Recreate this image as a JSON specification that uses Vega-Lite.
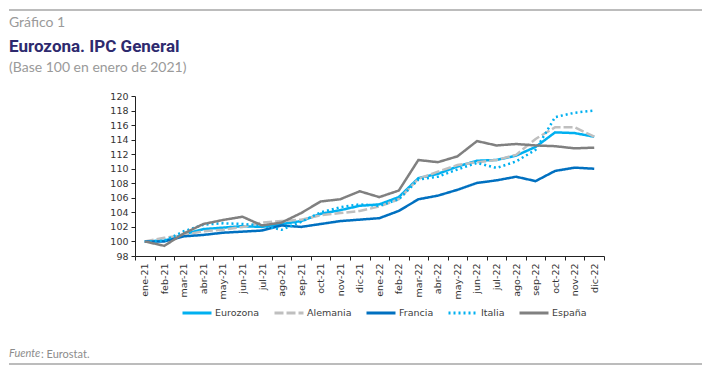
{
  "$schema": "https://vega.github.io/schema/vega-lite/v6.json",
  "padding": {"left": 8, "top": 9, "right": 0, "bottom": 0},
  "background": "white",
  "config": {
    "view": {"stroke": null},
    "axis": {"labelFont": "DejaVu Sans", "labelFontSize": 9.5, "labelColor": "#333333", "domainColor": "#222222", "tickColor": "#222222", "grid": false, "title": null}
  },
  "resolve": {"scale": {"x": "independent", "y": "independent"}},
  "spacing": 48,
  "vconcat": [
    {
      "spacing": 8,
      "resolve": {"scale": {"x": "independent", "y": "independent"}},
      "vconcat": [
        {
          "width": 469,
          "height": 1,
          "data": {"values": [{"a": 0, "b": 1, "r": 1}]},
          "mark": {"type": "rule", "color": "#a6a6a6", "strokeWidth": 1.5},
          "encoding": {
            "x": {"field": "a", "type": "quantitative", "scale": {"domain": [0, 1], "range": [-126, 567]}, "axis": null},
            "x2": {"field": "b"},
            "y": {"field": "r", "type": "quantitative", "scale": {"domain": [0, 1]}, "axis": null}
          },
          "title": {"text": "Gráfico 1", "orient": "bottom", "anchor": "start", "frame": "group", "dx": -126, "offset": 5, "font": "Lato", "fontSize": 14, "fontWeight": "normal", "color": "#9a9a9a"}
        },
        {
          "width": 469,
          "height": 160,
          "title": {
            "text": "Eurozona. IPC General",
            "subtitle": "(Base 100 en enero de 2021)",
            "anchor": "start",
            "frame": "group",
            "dx": -126,
            "offset": 15,
            "font": "Roboto",
            "fontSize": 17,
            "fontWeight": "bold",
            "color": "#2E2A6E",
            "subtitleFont": "Lato",
            "subtitleFontSize": 14,
            "subtitleColor": "#9a9a9a",
            "subtitlePadding": 5
          },
          "data": {"values": [
            {"m": "ene-21", "s": "Eurozona", "v": 100}, {"m": "feb-21", "s": "Eurozona", "v": 100.1}, {"m": "mar-21", "s": "Eurozona", "v": 101.0}, {"m": "abr-21", "s": "Eurozona", "v": 101.7}, {"m": "may-21", "s": "Eurozona", "v": 101.9}, {"m": "jun-21", "s": "Eurozona", "v": 102.1}, {"m": "jul-21", "s": "Eurozona", "v": 102.0}, {"m": "ago-21", "s": "Eurozona", "v": 102.4}, {"m": "sep-21", "s": "Eurozona", "v": 102.8}, {"m": "oct-21", "s": "Eurozona", "v": 103.8}, {"m": "nov-21", "s": "Eurozona", "v": 104.3}, {"m": "dic-21", "s": "Eurozona", "v": 104.9},
            {"m": "ene-22", "s": "Eurozona", "v": 105.1}, {"m": "feb-22", "s": "Eurozona", "v": 106.1}, {"m": "mar-22", "s": "Eurozona", "v": 108.7}, {"m": "abr-22", "s": "Eurozona", "v": 109.3}, {"m": "may-22", "s": "Eurozona", "v": 110.3}, {"m": "jun-22", "s": "Eurozona", "v": 111.1}, {"m": "jul-22", "s": "Eurozona", "v": 111.2}, {"m": "ago-22", "s": "Eurozona", "v": 111.8}, {"m": "sep-22", "s": "Eurozona", "v": 113.0}, {"m": "oct-22", "s": "Eurozona", "v": 115.0}, {"m": "nov-22", "s": "Eurozona", "v": 114.9}, {"m": "dic-22", "s": "Eurozona", "v": 114.4},
            {"m": "ene-21", "s": "Alemania", "v": 100}, {"m": "feb-21", "s": "Alemania", "v": 100.5}, {"m": "mar-21", "s": "Alemania", "v": 100.9}, {"m": "abr-21", "s": "Alemania", "v": 101.4}, {"m": "may-21", "s": "Alemania", "v": 101.6}, {"m": "jun-21", "s": "Alemania", "v": 102.0}, {"m": "jul-21", "s": "Alemania", "v": 102.6}, {"m": "ago-21", "s": "Alemania", "v": 102.8}, {"m": "sep-21", "s": "Alemania", "v": 103.0}, {"m": "oct-21", "s": "Alemania", "v": 103.6}, {"m": "nov-21", "s": "Alemania", "v": 103.9}, {"m": "dic-21", "s": "Alemania", "v": 104.2},
            {"m": "ene-22", "s": "Alemania", "v": 104.8}, {"m": "feb-22", "s": "Alemania", "v": 105.8}, {"m": "mar-22", "s": "Alemania", "v": 108.6}, {"m": "abr-22", "s": "Alemania", "v": 109.6}, {"m": "may-22", "s": "Alemania", "v": 110.5}, {"m": "jun-22", "s": "Alemania", "v": 110.9}, {"m": "jul-22", "s": "Alemania", "v": 111.2}, {"m": "ago-22", "s": "Alemania", "v": 111.9}, {"m": "sep-22", "s": "Alemania", "v": 114.1}, {"m": "oct-22", "s": "Alemania", "v": 115.7}, {"m": "nov-22", "s": "Alemania", "v": 115.7}, {"m": "dic-22", "s": "Alemania", "v": 114.4},
            {"m": "ene-21", "s": "Francia", "v": 100}, {"m": "feb-21", "s": "Francia", "v": 100.0}, {"m": "mar-21", "s": "Francia", "v": 100.7}, {"m": "abr-21", "s": "Francia", "v": 100.9}, {"m": "may-21", "s": "Francia", "v": 101.2}, {"m": "jun-21", "s": "Francia", "v": 101.35}, {"m": "jul-21", "s": "Francia", "v": 101.5}, {"m": "ago-21", "s": "Francia", "v": 102.2}, {"m": "sep-21", "s": "Francia", "v": 102.0}, {"m": "oct-21", "s": "Francia", "v": 102.4}, {"m": "nov-21", "s": "Francia", "v": 102.8}, {"m": "dic-21", "s": "Francia", "v": 103.0},
            {"m": "ene-22", "s": "Francia", "v": 103.2}, {"m": "feb-22", "s": "Francia", "v": 104.2}, {"m": "mar-22", "s": "Francia", "v": 105.8}, {"m": "abr-22", "s": "Francia", "v": 106.3}, {"m": "may-22", "s": "Francia", "v": 107.1}, {"m": "jun-22", "s": "Francia", "v": 108.05}, {"m": "jul-22", "s": "Francia", "v": 108.4}, {"m": "ago-22", "s": "Francia", "v": 108.9}, {"m": "sep-22", "s": "Francia", "v": 108.3}, {"m": "oct-22", "s": "Francia", "v": 109.7}, {"m": "nov-22", "s": "Francia", "v": 110.15}, {"m": "dic-22", "s": "Francia", "v": 110.0},
            {"m": "ene-21", "s": "Italia", "v": 100}, {"m": "feb-21", "s": "Italia", "v": 100.1}, {"m": "mar-21", "s": "Italia", "v": 101.4}, {"m": "abr-21", "s": "Italia", "v": 102.3}, {"m": "may-21", "s": "Italia", "v": 102.5}, {"m": "jun-21", "s": "Italia", "v": 102.4}, {"m": "jul-21", "s": "Italia", "v": 102.2}, {"m": "ago-21", "s": "Italia", "v": 101.6}, {"m": "sep-21", "s": "Italia", "v": 102.7}, {"m": "oct-21", "s": "Italia", "v": 104.0}, {"m": "nov-21", "s": "Italia", "v": 104.7}, {"m": "dic-21", "s": "Italia", "v": 105.1},
            {"m": "ene-22", "s": "Italia", "v": 104.9}, {"m": "feb-22", "s": "Italia", "v": 105.8}, {"m": "mar-22", "s": "Italia", "v": 108.5}, {"m": "abr-22", "s": "Italia", "v": 108.9}, {"m": "may-22", "s": "Italia", "v": 109.9}, {"m": "jun-22", "s": "Italia", "v": 110.8}, {"m": "jul-22", "s": "Italia", "v": 110.1}, {"m": "ago-22", "s": "Italia", "v": 111.0}, {"m": "sep-22", "s": "Italia", "v": 112.6}, {"m": "oct-22", "s": "Italia", "v": 117.1}, {"m": "nov-22", "s": "Italia", "v": 117.7}, {"m": "dic-22", "s": "Italia", "v": 118.0},
            {"m": "ene-21", "s": "España", "v": 100}, {"m": "feb-21", "s": "España", "v": 99.4}, {"m": "mar-21", "s": "España", "v": 101.1}, {"m": "abr-21", "s": "España", "v": 102.4}, {"m": "may-21", "s": "España", "v": 102.95}, {"m": "jun-21", "s": "España", "v": 103.4}, {"m": "jul-21", "s": "España", "v": 102.2}, {"m": "ago-21", "s": "España", "v": 102.6}, {"m": "sep-21", "s": "España", "v": 103.9}, {"m": "oct-21", "s": "España", "v": 105.5}, {"m": "nov-21", "s": "España", "v": 105.8}, {"m": "dic-21", "s": "España", "v": 106.9},
            {"m": "ene-22", "s": "España", "v": 106.1}, {"m": "feb-22", "s": "España", "v": 107.0}, {"m": "mar-22", "s": "España", "v": 111.2}, {"m": "abr-22", "s": "España", "v": 110.9}, {"m": "may-22", "s": "España", "v": 111.7}, {"m": "jun-22", "s": "España", "v": 113.8}, {"m": "jul-22", "s": "España", "v": 113.2}, {"m": "ago-22", "s": "España", "v": 113.4}, {"m": "sep-22", "s": "España", "v": 113.2}, {"m": "oct-22", "s": "España", "v": 113.1}, {"m": "nov-22", "s": "España", "v": 112.8}, {"m": "dic-22", "s": "España", "v": 112.9}
          ]},
          "mark": {"type": "line", "strokeWidth": 2.5},
          "encoding": {
            "x": {
              "field": "m", "type": "ordinal",
              "sort": ["ene-21","feb-21","mar-21","abr-21","may-21","jun-21","jul-21","ago-21","sep-21","oct-21","nov-21","dic-21","ene-22","feb-22","mar-22","abr-22","may-22","jun-22","jul-22","ago-22","sep-22","oct-22","nov-22","dic-22"],
              "scale": {"type": "band", "paddingInner": 0, "paddingOuter": 0},
              "axis": {"labelAngle": -90, "tickBand": "extent", "tickSize": 4, "labelPadding": 3}
            },
            "y": {
              "field": "v", "type": "quantitative",
              "scale": {"domain": [98, 120], "nice": false, "zero": false},
              "axis": {"values": [98,100,102,104,106,108,110,112,114,116,118,120], "tickSize": 4, "labelPadding": 3}
            },
            "color": {
              "field": "s", "type": "nominal",
              "scale": {"domain": ["Eurozona","Alemania","Francia","Italia","España"], "range": ["#00B0F0","#BFBFBF","#0070C0","#00B0F0","#808080"]},
              "legend": {"title": null, "orient": "none", "legendX": 46, "legendY": 287, "direction": "horizontal", "symbolType": "stroke", "symbolSize": 841, "symbolStrokeWidth": 3, "labelFont": "DejaVu Sans", "labelFontSize": 9.5, "labelColor": "#404040", "labelOffset": 2, "columnPadding": 8}
            },
            "strokeDash": {
              "field": "s", "type": "nominal",
              "scale": {"domain": ["Eurozona","Alemania","Francia","Italia","España"], "range": [[1,0],[9,3],[1,0],[2,3],[1,0]]},
              "legend": {"title": null, "orient": "none", "legendX": 46, "legendY": 287, "direction": "horizontal", "symbolType": "stroke", "symbolSize": 841, "symbolStrokeWidth": 3, "labelFont": "DejaVu Sans", "labelFontSize": 9.5, "labelColor": "#404040", "labelOffset": 2, "columnPadding": 8}
            }
          }
        }
      ]
    },
    {
      "spacing": 0,
      "bounds": "flush",
      "hconcat": [
        {
          "width": 1, "height": 1,
          "data": {"values": [{"a": 0, "b": 1, "r": 1}]},
          "mark": {"type": "rule", "color": "#a6a6a6", "strokeWidth": 1.5},
          "encoding": {
            "x": {"field": "a", "type": "quantitative", "scale": {"domain": [0, 1], "range": [-126, 567]}, "axis": null},
            "x2": {"field": "b"},
            "y": {"field": "r", "type": "quantitative", "scale": {"domain": [0, 1]}, "axis": null}
          },
          "title": {"text": "Fuente", "orient": "top", "anchor": "start", "frame": "group", "dx": -126, "offset": 4, "font": "Lato", "fontSize": 11, "fontStyle": "italic", "fontWeight": "normal", "color": "#8c8c8c"}
        },
        {
          "width": 1, "height": 1,
          "data": {"values": []},
          "mark": "point",
          "title": {"text": ": Eurostat.", "orient": "top", "anchor": "start", "frame": "group", "dx": -95, "offset": 4, "font": "Lato", "fontSize": 11, "fontWeight": "normal", "color": "#8c8c8c"}
        }
      ]
    }
  ]
}
